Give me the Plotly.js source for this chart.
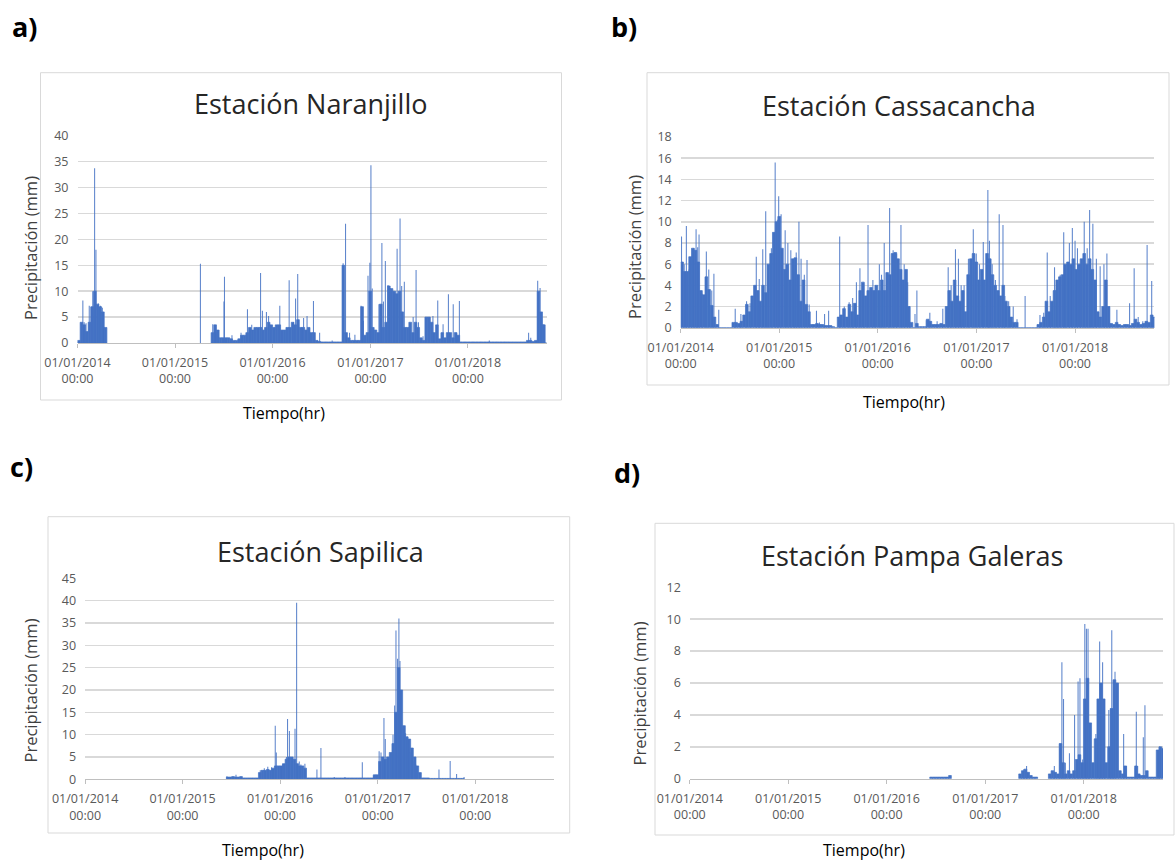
<!DOCTYPE html>
<html>
<head>
<meta charset="utf-8">
<script src="https://cdn.plot.ly/plotly-3.0.1.min.js"></script>
<style>html,body{margin:0;padding:0;background:#fff;}#chart{width:1175px;height:863px;}</style>
</head>
<body>
<div id="chart"></div>
<script>
// ---------- DATA ----------
const yearTicks = ["2014-01-01","2015-01-01","2016-01-01","2017-01-01","2018-01-01"];
const yearTickText = ["01/01/2014<br>00:00","01/01/2015<br>00:00","01/01/2016<br>00:00","01/01/2017<br>00:00","01/01/2018<br>00:00"];
const titles = ["Estación Naranjillo","Estación Cassacancha","Estación Sapilica","Estación Pampa Galeras"];
const panelLetters = ["a)","b)","c)","d)"];
const DAY = 86400000;

// Background (dense) rainfall level read per 10-day period, starting at the given date
// a) Naranjillo
const naranjilloBaseStart = "2014-01-01";
const naranjilloBase = [0.5,4,3.5,2.2,4,7,10,7.5,7,6,3,
 null,null,null,null,null,null,null,null,null,null,null,null,null,null,null,null,null,null,null,null,
 null,null,null,null,null,null,null,null,null,null,null,null,null,null,null,null,null,null,null,
 2,3.5,2.5,1,1,1,1,0.8,0.5,0.5,0.8,1.5,1.5,2,3,2.5,3,3,3,2.5,3,4,3.5,3,3.5,3.5,2.5,2.5,3,3,
 4,3.5,4.5,3,3,2.5,3,2,2,0.5,0.3,0.2,0.2,0.2,0.2,0.2,0.2,0.2,0.2,
 15,2,1,0.5,0.5,0.5,
 0.5,7,1.5,2,10,3,2.5,2,7.5,3,4,11,10.5,10,9.5,10,6,3,3,4,2,4,3,1,0.5,5,5,4,2,3.5,0.8,2,1,2,2,1,2,1.5,
 0.2,0.2,0.2,0.2,0.2,0.2,0.2,0.2,0.2,0.2,0.2,0.2,0.2,0.2,0.2,0.2,0.2,0.2,0.2,0.2,0.2,0.2,0.2,0.2,0.2,
 0.5,0.5,0.3,0.5,10,6,3.5,0];
const naranjilloSpikeDates = ["2014-01-21","2014-01-26","2014-02-02","2014-02-14","2014-02-21","2014-02-27","2014-03-06","2014-03-11","2014-03-20","2014-03-28","2014-04-04","2014-04-12",
 "2015-04-06","2015-05-22","2015-05-30","2015-06-06","2015-07-03","2015-07-05","2015-08-02","2015-09-05","2015-09-29","2015-10-15","2015-10-24","2015-11-17","2015-11-24","2015-12-09","2015-12-17",
 "2016-01-10","2016-01-28","2016-02-13","2016-03-03","2016-03-19","2016-03-27","2016-04-04","2016-04-19","2016-04-26","2016-05-09","2016-06-02","2016-06-25","2016-08-11",
 "2016-09-21","2016-09-30","2016-10-15","2016-11-04","2016-11-27","2016-12-06","2016-12-23","2016-12-30","2017-01-03","2017-01-08","2017-02-02","2017-02-13","2017-02-19","2017-02-26",
 "2017-03-08","2017-03-16","2017-04-02","2017-04-11","2017-04-22","2017-04-28","2017-05-08","2017-05-25","2017-06-10","2017-06-21","2017-06-30","2017-07-17","2017-08-11","2017-08-23",
 "2017-09-10","2017-09-30","2017-10-20","2017-11-07","2017-11-16","2017-11-30","2018-03-22","2018-08-16","2018-08-24","2018-09-19","2018-09-28","2018-10-09"];
const naranjilloSpikeVals = [8.2,4,3.8,7.2,7,10,33.7,18,7.6,7.2,6.8,3,
 15.3,3.6,3.4,2,8,12.8,1.5,2,6.5,3.5,2.5,13.5,6.2,6,5.2,
 3,7.2,2.5,12.1,4,8.6,13.3,3,4.8,5.2,8.1,2,0.5,
 15.4,23,2,1.6,7.2,4.3,13,15.5,34.3,10.5,7.5,19.3,8,15.8,
 11.2,10.6,9.6,18.2,24,11,11.8,3,5,14.1,4,1.3,5,5.2,
 8.2,3.6,9.4,7.5,2,8.1,0.5,2,1,12,10.6,3.6];

// b) Cassacancha
const cassacanchaBaseStart = "2014-01-01";
const cassacanchaBase = [6.2,5.3,5.3,6.7,7.5,7.3,6.2,3.5,3.1,4.8,3.6,2.1,1.0,0.3,
 0,0,0,0,0,
 0.5,0.5,0.4,0.6,1.2,2.2,1.5,3,4,3.5,2.5,4,3.3,
 6,7,9,10,10.5,7.5,5.5,6,4.5,6.5,6.6,5,2.5,4.5,2.2,1.5,0.3,
 0.3,0.4,0.3,0.3,0.2,0.2,0.2,0.1,0,
 1,1.2,1.8,1,2.2,1.5,2.3,1.2,3.5,4.3,3,3.5,3.8,3.5,4,3.5,4.5,3.5,
 5.2,5,7,7.1,6.5,5.5,4.5,5.5,2,0.5,0,0.4,0.1,0.1,0.1,
 0.8,0.6,0.3,0.3,0.3,0.4,0.3,
 2,3.5,2.5,4.5,3,2.5,3.5,1.5,5,6.5,7,6.2,4.5,5.5,4.5,7,6.5,5,4,3.5,3,4,2.5,2,1,0.5,0.5,
 0,0,0,0,0,0,0,
 0.3,0.5,1,2.5,1.5,2.5,3.5,4.5,4.8,5,6,6.2,6,6.5,5.5,6,6.5,7,6,6.5,5.5,4.5,1.5,1,2,4.5,2,
 0.4,0.3,0.5,0.3,0.2,0.3,0.3,0.2,0.4,0.8,0.5,0.3,0.4,0.6,0.5,1.2,1];
const cassacanchaSpikeDates = ["2014-01-04","2014-01-14","2014-01-22","2014-02-01","2014-02-11","2014-02-19","2014-02-27","2014-03-05","2014-03-10","2014-03-21","2014-04-06","2014-04-15","2014-04-26","2014-05-04","2014-05-22",
 "2014-07-22","2014-08-12","2014-09-02","2014-09-15","2014-10-08","2014-10-19","2014-11-01","2014-11-12","2014-11-22","2014-12-03","2014-12-17","2014-12-25","2014-12-30","2015-01-08","2015-01-23","2015-02-02","2015-02-13","2015-02-26","2015-03-05","2015-03-15","2015-03-23","2015-04-04","2015-04-14","2015-04-22","2015-05-19","2015-05-30","2015-06-18","2015-07-03",
 "2015-08-13","2015-08-30","2015-09-17","2015-09-30","2015-10-14","2015-10-27","2015-11-10","2015-11-26","2015-12-14","2015-12-23","2016-01-07","2016-01-15","2016-01-25","2016-02-14","2016-02-27","2016-03-11","2016-03-27","2016-04-08","2016-04-21","2016-04-28","2016-05-18","2016-05-25","2016-06-29","2016-07-12","2016-08-08","2016-08-29",
 "2016-09-18","2016-09-29","2016-10-15","2016-10-26","2016-11-05","2016-11-16","2016-12-02","2016-12-20","2016-12-31","2017-01-12","2017-01-26","2017-02-12","2017-02-18","2017-02-28","2017-03-12","2017-03-26","2017-04-09","2017-04-16","2017-04-30","2017-05-17","2017-05-31","2017-06-30",
 "2017-08-24","2017-09-07","2017-09-20","2017-10-01","2017-10-17","2017-10-28","2017-11-07","2017-11-20","2017-11-27","2017-12-11","2017-12-22","2018-01-01","2018-01-10","2018-01-21","2018-02-04","2018-02-15","2018-02-24","2018-03-08","2018-03-21","2018-04-04","2018-04-18","2018-04-29","2018-05-08","2018-06-05","2018-07-22","2018-08-08","2018-08-23","2018-09-09","2018-09-25","2018-10-12"];
const cassacanchaSpikeVals = [8.6,6,9.6,5.5,6.7,7.5,9.3,7.6,8.8,3.2,7.2,5.5,3.5,5.1,1.7,
 1.8,1.3,2.5,2.3,6.7,4.6,7.4,11,5,7.5,15.6,10.2,12.4,10.7,9.2,8,7.3,5.3,7.1,10,6.5,5,6.4,2.2,1.6,0.5,1.3,1.6,
 8.6,2,2.4,2.8,4.3,5.6,4.2,9.7,4.5,4,6,5,8,11.3,7.3,7,9.7,6,4.3,2,1.3,3.5,0.7,1.4,0.6,1.8,
 5.7,4,7.4,6.5,4,4,6.5,9.3,7,6,8.1,13,8.2,6,4.5,10.7,9.7,3,2.5,2,0.8,3,
 1.2,1.4,7.1,3,5.7,4.3,5,9,5,8,9.4,8.2,7.5,6,10,7.5,11.1,9.8,6.5,5.8,6,7,2,1.7,2.3,5.6,1,0.6,7.8,4.4];

// c) Sapilica
const sapilicaBaseStart = "2015-06-14";
const sapilicaBase = [0.5,0.5,0.6,0.5,0.5,0.6,0.3,0.3,0.3,0.3,0.3,0.3,
 1.5,2,2,2.2,2,2.5,3,3,3,3.5,4.5,5,5,4.5,3.5,3,3,2.5,
 0.3,0.3,0.3,0.3,0.3,0.3,0.3,0.3,0.3,0.3,0.3,0.3,0.3,0.3,0.3,0.3,0.3,0.3,0.3,0.3,0.3,0.3,0.3,0.3,0.3,
 1,1,4,5,4.5,5,6,8,15,25,20,12,9.5,9,7,5,3,1.5,0.3,0.3,0.3,
 0.2,0.2,0.2,0.2,0.2,0.2,0.2,0.2,0.2,0.2,0.2,0.2,0.2];
const sapilicaSpikeDates = ["2015-06-16","2015-07-20","2015-10-19","2015-11-03","2015-11-16","2015-11-30","2015-12-14","2015-12-18","2015-12-28","2016-01-11","2016-01-25","2016-01-29","2016-02-05","2016-02-15","2016-02-26","2016-03-03","2016-03-13","2016-03-19","2016-04-03","2016-05-18","2016-06-02","2016-07-22","2016-08-31","2016-11-04","2016-12-16",
 "2017-01-06","2017-01-13","2017-01-24","2017-01-29","2017-02-10","2017-02-17","2017-02-27","2017-03-05","2017-03-10","2017-03-16","2017-03-21","2017-03-25","2017-03-30","2017-04-05","2017-04-15","2017-04-23","2017-05-02","2017-05-13","2017-05-23","2017-07-03","2017-08-18","2017-09-29","2017-10-23","2017-11-20"];
const sapilicaSpikeVals = [0.7,1,2,2.5,2.8,2.7,12,6,3,3.3,5,13.5,10.8,4,11.3,39.5,4,3.3,3.5,2.2,7,0.5,0.5,3.8,0.8,
 6.3,6,13.7,9,4.5,5.5,10,16.5,33.3,27,36,26.5,20,12,10.3,9.5,6,4,3.3,0.3,2.2,4.1,1.2,0.5];

// d) Pampa Galeras
const galerasBaseStart = "2016-06-09";
const galerasBase = [0.1,0.1,0.1,0.1,0.1,0.1,0.1,0.2,
 null,null,null,null,null,null,null,null,null,null,null,null,null,null,null,null,null,null,null,null,null,null,null,null,null,
 0.3,0.5,0.6,0.4,0.2,0.1,0.1,
 null,null,null,null,
 0.3,0.5,0.4,0.3,2.2,1,0.3,0.5,0.3,0.5,1.2,1.5,1,5,6.3,3.5,1,2.5,5,6,5,1,2,4.4,6.2,6,0.5,0.3,0.8,0.1,0.1,0.1,0.8,0.3,0.2,0.2,0.5,0.1,0.1,0.1,1.8,2,1.9];
const galerasSpikeDates = ["2017-05-24","2017-06-03","2017-09-14","2017-10-05","2017-10-12","2017-10-18","2017-10-25","2017-11-09","2017-11-28","2017-12-11","2017-12-18","2017-12-28","2018-01-05","2018-01-11","2018-01-17","2018-01-22","2018-02-15","2018-02-24","2018-03-01","2018-03-06","2018-03-12","2018-03-19","2018-04-04","2018-04-10","2018-04-15","2018-04-21","2018-04-27","2018-05-29","2018-06-08","2018-07-11","2018-07-15","2018-07-20","2018-08-10","2018-08-16","2018-10-02","2018-10-09"];
const galerasSpikeVals = [0.6,0.8,0.8,2.2,7.3,5,1,1.6,4,6.1,6.3,1.2,9.7,9.4,9.4,3.5,2.8,5,8.6,6,7.3,4,4.3,4.4,9.3,6.2,6.7,2.8,0.8,0.7,4.2,0.8,2.6,4.6,1.8,2];

const yRanges = [[0,40],[0,18],[0,45],[0,12]];
const yDtick = [5,2,5,2];

// ---------- LAYOUT (pixel geometry) ----------
const W = 1175, H = 863;
const plots = [ // plot area [left, top, right, bottom] in px
  [77.5, 135.7, 546.5, 343],
  [680.7, 137, 1154.4, 327.7],
  [85.1, 578.3, 553.8, 779.3],
  [689.8, 587.3, 1163, 778.7]
];
const boxes = [[40.5,72.7,561.5,400],[647,72.7,1169,385],[48,516.7,569.7,833],[655,523.3,1174,835]];
const titlePos = [[311,103],[899,105],[320,551],[912,555]];
const letterPos = [[24,27],[624,27],[21,466],[627,472]];
const ytitlePos = [[30,248],[635,247],[29.5,691],[638.5,694]];
const xtitlePos = [[284,413],[904,402],[263,850],[864,850]];

const baseStarts = [naranjilloBaseStart,cassacanchaBaseStart,sapilicaBaseStart,galerasBaseStart];
const baseVals = [naranjilloBase,cassacanchaBase,sapilicaBase,galerasBase];
const spikeDates = [naranjilloSpikeDates,cassacanchaSpikeDates,sapilicaSpikeDates,galerasSpikeDates];
const spikeVals = [naranjilloSpikeVals,cassacanchaSpikeVals,sapilicaSpikeVals,galerasSpikeVals];

const blue = '#4472c4';
const FONT = 'Open Sans, Noto Sans, sans-serif';
const data = [];
const layout = {
  width: W, height: H, margin: {l:0,r:0,t:0,b:0},
  paper_bgcolor: '#fff', plot_bgcolor: 'rgba(0,0,0,0)',
  showlegend: false, shapes: [], annotations: [], barmode: 'overlay',
  font: {family: FONT, color: '#595959'}
};

for (let i = 0; i < 4; i++) {
  const sfx = i === 0 ? '' : String(i + 1);
  const xa = 'x' + sfx, ya = 'y' + sfx;
  const p = plots[i];
  data.push({
    type: 'bar', x0: baseStarts[i], dx: 10 * DAY, y: baseVals[i],
    xaxis: xa, yaxis: ya, width: 10 * DAY, offset: 0,
    marker: {color: blue, line: {width: 0.7, color: blue}}, hoverinfo: 'skip'
  });
  data.push({
    type: 'bar', x: spikeDates[i], y: spikeVals[i], xaxis: xa, yaxis: ya,
    width: 4 * DAY, marker: {color: blue, opacity: 0.85, line: {width: 0}}
  });
  layout['xaxis' + sfx] = {
    domain: [p[0] / W, p[2] / W], anchor: ya, type: 'date',
    range: ['2014-01-01', '2018-10-22'],
    tickmode: 'array', tickvals: yearTicks, ticktext: yearTickText,
    ticks: 'outside', ticklen: 4, tickcolor: '#bfbfbf', ticklabelstandoff: 4,
    showgrid: false, showline: true, linecolor: '#bfbfbf', linewidth: 1,
    tickfont: {family: FONT, size: 12.5, color: '#595959'}, zeroline: false, fixedrange: true
  };
  layout['yaxis' + sfx] = {
    domain: [1 - p[3] / H, 1 - p[1] / H], anchor: xa,
    range: yRanges[i], dtick: yDtick[i], tick0: 0,
    showgrid: true, gridcolor: '#d9d9d9', gridwidth: 1.5,
    showline: false, zeroline: false, ticks: '', ticklabelstandoff: 8,
    tickfont: {family: FONT, size: 12.5, color: '#595959'}, fixedrange: true
  };
  const b = boxes[i];
  layout.shapes.push({type: 'rect', xref: 'paper', yref: 'paper',
    x0: b[0] / W, x1: b[2] / W, y0: 1 - b[3] / H, y1: 1 - b[1] / H,
    line: {color: '#d9d9d9', width: 1}, fillcolor: 'rgba(0,0,0,0)', layer: 'below'});
  layout.annotations.push({xref: 'paper', yref: 'paper', x: titlePos[i][0] / W, y: 1 - titlePos[i][1] / H,
    text: titles[i], showarrow: false, xanchor: 'center', yanchor: 'middle',
    font: {family: FONT, size: 27, color: '#262626'}});
  layout.annotations.push({xref: 'paper', yref: 'paper', x: letterPos[i][0] / W, y: 1 - letterPos[i][1] / H,
    text: '<b>' + panelLetters[i] + '</b>', showarrow: false, xanchor: 'center', yanchor: 'middle',
    font: {family: FONT, size: 27, color: '#000'}});
  layout.annotations.push({xref: 'paper', yref: 'paper', x: ytitlePos[i][0] / W, y: 1 - ytitlePos[i][1] / H,
    text: 'Precipitación (mm)', textangle: -90, showarrow: false, xanchor: 'center', yanchor: 'middle',
    font: {family: FONT, size: 16.5, color: '#404040'}});
  layout.annotations.push({xref: 'paper', yref: 'paper', x: xtitlePos[i][0] / W, y: 1 - xtitlePos[i][1] / H,
    text: 'Tiempo(hr)', showarrow: false, xanchor: 'center', yanchor: 'middle',
    font: {family: FONT, size: 16, color: '#000'}});
}

Plotly.newPlot('chart', data, layout, {displayModeBar: false, staticPlot: true});
</script>
</body>
</html>
